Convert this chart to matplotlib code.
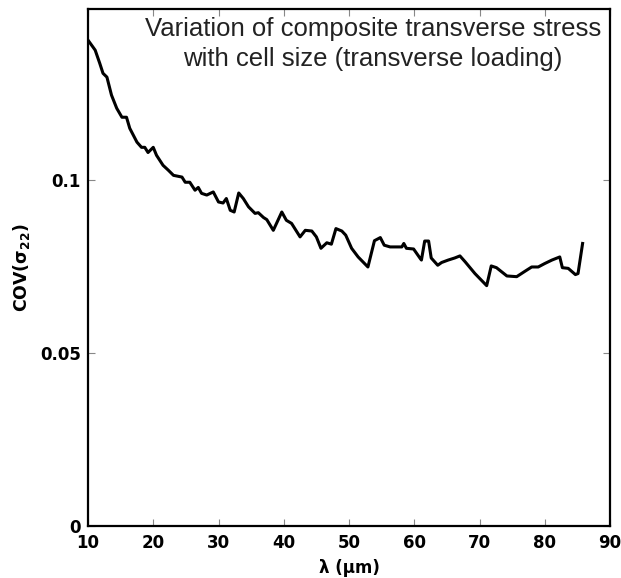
import matplotlib
matplotlib.use("Agg")
import matplotlib.pyplot as plt

# Data
lam = [10.0, 11.1, 11.8, 12.3, 12.9, 13.6, 14.4, 15.2, 15.9, 16.4, 17.5, 18.2, 18.7,
       19.2, 20.0, 20.5, 21.5, 22.3, 23.1, 24.4, 24.9, 25.6, 26.4, 26.9, 27.4, 28.2,
       29.2, 30.0, 30.7, 31.2, 31.8, 32.4, 33.1, 33.8, 34.6, 35.6, 36.1, 36.9, 37.4,
       38.4, 39.7, 40.4, 41.2, 42.5, 43.3, 44.3, 45.0, 45.7, 46.6, 47.3, 48.0, 48.9,
       49.5, 50.4, 51.4, 52.9, 53.9, 54.8, 55.4, 56.3, 58.1, 58.4, 58.8, 59.9, 60.9,
       61.1, 61.6, 62.2, 62.6, 63.6, 64.2, 65.2, 66.2, 67.0, 67.8, 69.3, 71.1, 71.8,
       72.6, 74.2, 75.7, 77.0, 78.0, 79.0, 80.0, 81.1, 82.3, 82.7, 83.6, 84.7, 85.1,
       85.8]
cov = [0.1405, 0.1376, 0.1338, 0.1309, 0.1298, 0.1246, 0.1208, 0.1182, 0.1182, 0.1150,
       0.1110, 0.1095, 0.1095, 0.1080, 0.1095, 0.1072, 0.1043, 0.1029, 0.1014, 0.1009,
       0.0994, 0.0994, 0.0971, 0.0979, 0.0962, 0.0957, 0.0966, 0.0937, 0.0934, 0.0947,
       0.0913, 0.0908, 0.0963, 0.0947, 0.0923, 0.0904, 0.0906, 0.0892, 0.0886, 0.0855,
       0.0908, 0.0884, 0.0875, 0.0836, 0.0855, 0.0853, 0.0836, 0.0803, 0.0819, 0.0815,
       0.0860, 0.0853, 0.0841, 0.0803, 0.0778, 0.0749, 0.0825, 0.0834, 0.0812, 0.0807,
       0.0807, 0.0817, 0.0803, 0.0801, 0.0774, 0.0769, 0.0824, 0.0824, 0.0775, 0.0754,
       0.0762, 0.0769, 0.0775, 0.0781, 0.0764, 0.0730, 0.0695, 0.0752, 0.0747, 0.0723,
       0.0721, 0.0737, 0.0749, 0.0749, 0.0759, 0.0769, 0.0778, 0.0747, 0.0745, 0.0727,
       0.0730, 0.0817]

xticks = [10, 20, 30, 40, 50, 60, 70, 80, 90]
yticks = [0, 0.05, 0.1]
ytick_labels = ["0", "0.05", "0.1"]
title_text = "Variation of composite transverse stress\nwith cell size (transverse loading)"

plt.rcParams['mathtext.default'] = 'bf'

fig = plt.figure(figsize=(6.21, 5.78), dpi=100)
ax = fig.add_axes([88/621, 1-526/578, (610-88)/621, (526-9)/578])

ax.plot(lam, cov, color='black', lw=2.2)

ax.set_xlim(10, 90)
ax.set_ylim(0, 0.1495)
ax.set_xticks(xticks)
ax.set_xticklabels([str(t) for t in xticks])
ax.set_yticks(yticks)
ax.set_yticklabels(ytick_labels)

for sp in ax.spines.values():
    sp.set_linewidth(1.6)
    sp.set_color('black')

ax.tick_params(direction='in', top=True, right=True, length=5, width=0.8,
               color='#888888', labelsize=12)
ax.tick_params(axis='x', pad=6)
ax.tick_params(axis='y', pad=5)
for lab in ax.get_xticklabels() + ax.get_yticklabels():
    lab.set_fontweight('bold')
    lab.set_fontfamily('DejaVu Sans')

ax.set_xlabel(r"λ (μm)", fontsize=12, fontweight='bold', family='DejaVu Sans', labelpad=5)
ax.set_ylabel(r"COV($\sigma_{22}$)", fontsize=12.5, fontweight='bold', family='DejaVu Sans', labelpad=6)

ax.text(0.546, 0.933, title_text, transform=ax.transAxes, ha='center', va='center',
        fontsize=18.5, family='Liberation Sans', color='#222222', linespacing=1.32)

fig.savefig("out.png", dpi=100)
